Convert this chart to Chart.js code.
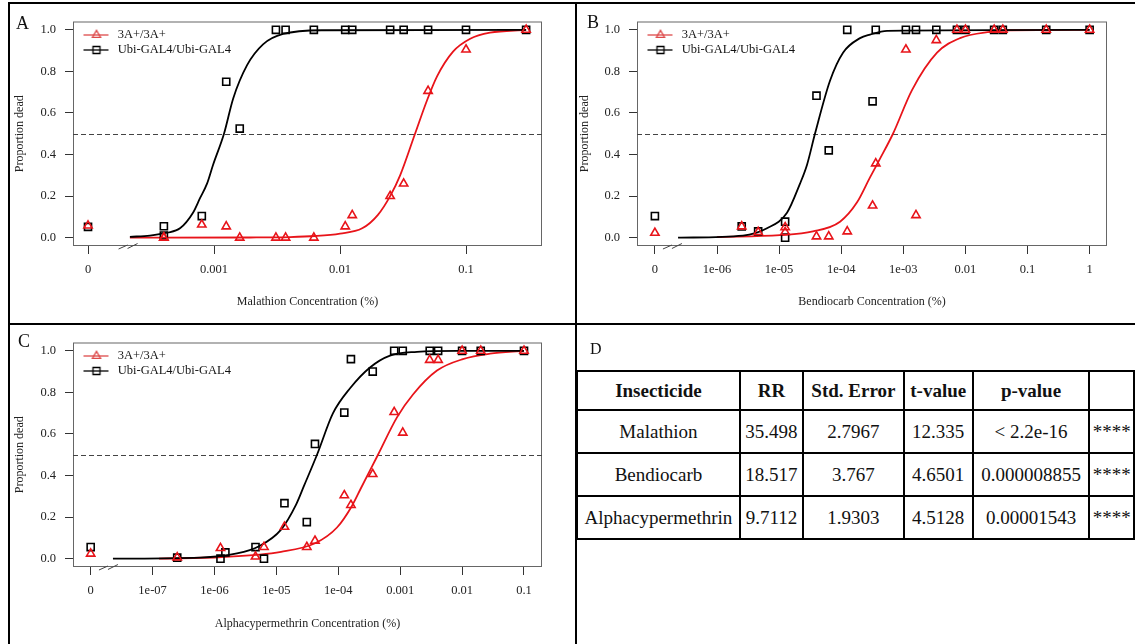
<!DOCTYPE html>
<html>
<head>
<meta charset="utf-8">
<script src="https://cdn.jsdelivr.net/npm/chart.js@4.4.1/dist/chart.umd.min.js"></script>
<style>
  body { margin: 0; background: #fff; font-family: 'Liberation Serif', 'Times New Roman', serif; }
  #fig { position: relative; width: 1135px; height: 644px; overflow: hidden; }
  .rule { position: absolute; background: #000; }
  .tag { position: absolute; font-size: 18px; line-height: 1; color: #111; }
  canvas { position: absolute; }
  #stats { position: absolute; left: 576px; top: 370px; border-collapse: collapse; font-size: 19px; color: #111; table-layout: fixed; }
  #stats td, #stats th { border: 2px solid #000; text-align: center; padding: 0; white-space: nowrap; }
  #stats th { height: 37px; }
  #stats td { height: 41px; font-weight: normal; }
</style>
</head>
<body>
<div id="fig">
  <div class="rule" style="left:8px;top:2px;width:1127px;height:2px"></div>
  <div class="rule" style="left:8px;top:2px;width:2px;height:642px"></div>
  <div class="rule" style="left:575px;top:2px;width:2px;height:642px"></div>
  <div class="rule" style="left:8px;top:323px;width:1127px;height:2px"></div>

  <canvas id="chartA" width="565" height="317" style="left:10px;top:5px"></canvas>
  <canvas id="chartB" width="557" height="317" style="left:578px;top:5px"></canvas>
  <canvas id="chartC" width="565" height="318" style="left:10px;top:326px"></canvas>

  <div class="tag" style="left:16px;top:14px">A</div>
  <div class="tag" style="left:587px;top:13px">B</div>
  <div class="tag" style="left:18px;top:332px">C</div>
  <div class="tag" style="left:590px;top:341px;font-size:16px">D</div>

  <table id="stats">
    <colgroup>
      <col style="width:164px"><col style="width:64px"><col style="width:102px">
      <col style="width:70px"><col style="width:118px"><col style="width:45px">
    </colgroup>
    <thead><tr id="statsHead"></tr></thead>
    <tbody id="statsBody"></tbody>
  </table>
</div>

<script>
// ---- Panel A: malathion ----
const malTickVals = [1e-4, 1e-3, 1e-2, 1e-1];
const malTickLabels = ['0', '0.001', '0.01', '0.1'];
const malDose = [0, 0.0004, 0.0004, 0.0008, 0.00125, 0.0016, 0.0031, 0.0037, 0.0062, 0.011, 0.0125, 0.025, 0.032, 0.05, 0.1, 0.3];
const malDead3A = [0.058, 0, 0, 0.063, 0.054, 0, 0, 0, 0, 0.054, 0.108, 0.2, 0.26, 0.706, 0.905, 1];
const malDeadUbi = [0.052, 0.055, 0.01, 0.104, 0.75, 0.525, 1, 1, 1, 1, 1, 1, 1, 1, 1, 1];
const malFit3AX = [2.15e-4, 1.93e-3, 4.01e-3, 6.34e-3, 0.01, 0.015, 0.02, 0.025, 0.03, 0.0394, 0.049, 0.0589, 0.0789, 0.108, 0.155, 0.3];
const malFit3AY = [0, 0.001, 0.003, 0.008, 0.02, 0.045, 0.11, 0.2, 0.3, 0.5, 0.66, 0.776, 0.895, 0.957, 0.986, 1];
const malFitUbiX = [2.15e-4, 3.1e-4, 4.24e-4, 5.37e-4, 6.81e-4, 7.74e-4, 8.8e-4, 9.82e-4, 1.2e-3, 1.42e-3, 1.83e-3, 2.45e-3, 3.53e-3, 7.33e-3, 0.3];
const malFitUbiY = [0.004, 0.01, 0.024, 0.045, 0.12, 0.19, 0.26, 0.35, 0.5, 0.67, 0.83, 0.93, 0.98, 0.998, 1];

// ---- Panel B: bendiocarb ----
const benTickVals = [1e-7, 1e-6, 1e-5, 1e-4, 1e-3, 1e-2, 1e-1, 1];
const benTickLabels = ['0', '1e-06', '1e-05', '1e-04', '1e-03', '0.01', '0.1', '1'];
const benDose = [0, 2.5e-6, 4.6e-6, 1.25e-5, 1.25e-5, 4e-5, 6.3e-5, 1.25e-4, 3.2e-4, 3.6e-4, 1.1e-3, 1.6e-3, 3.4e-3, 7.3e-3, 0.01, 0.029, 0.04, 0.2, 1];
const benDead3A = [0.023, 0.054, 0.027, 0.05, 0.027, 0.006, 0.006, 0.03, 0.154, 0.357, 0.905, 0.108, 0.95, 1, 1, 1, 1, 1, 1];
const benDeadUbi = [0.104, 0.054, 0.03, 0, 0.077, 0.683, 0.42, 1, 0.656, 1, 1, 1, 1, 1, 1, 1, 1, 1, 1];
const benFit3AX = [1e-6, 1.03e-5, 3.51e-5, 9.57e-5, 1.8e-4, 2.91e-4, 4.22e-4, 6.82e-4, 1.38e-3, 3.49e-3, 8.19e-3, 0.0249, 0.0522, 1];
const benFit3AY = [0.003, 0.012, 0.03, 0.077, 0.17, 0.29, 0.38, 0.5, 0.71, 0.89, 0.96, 0.99, 0.998, 1];
const benFitUbiX = [2.36e-7, 2.62e-6, 6.38e-6, 1.34e-5, 2.17e-5, 2.81e-5, 3.78e-5, 6.6e-5, 1.07e-4, 2.01e-4, 2.91e-4, 5.47e-4, 1];
const benFitUbiY = [0, 0.01, 0.045, 0.12, 0.26, 0.35, 0.5, 0.755, 0.89, 0.96, 0.977, 0.995, 1];

// ---- Panel C: alphacypermethrin ----
const alphaTickVals = [1e-8, 1e-7, 1e-6, 1e-5, 1e-4, 1e-3, 1e-2, 1e-1];
const alphaTickLabels = ['0', '1e-07', '1e-06', '1e-05', '1e-04', '0.001', '0.01', '0.1'];
const alphaDose3A = [0, 2.5e-7, 1.25e-6, 4.6e-6, 6.3e-6, 1.35e-5, 3.1e-5, 4.2e-5, 1.25e-4, 1.6e-4, 3.6e-4, 8e-4, 1.1e-3, 3e-3, 4.1e-3, 0.01, 0.02, 0.1];
const alphaDead3A = [0.024, 0.006, 0.051, 0.01, 0.056, 0.153, 0.056, 0.086, 0.305, 0.258, 0.407, 0.705, 0.606, 0.956, 0.956, 1, 1, 1];
const alphaDoseUbi = [0, 2.5e-7, 1.25e-6, 1.5e-6, 4.6e-6, 6.3e-6, 1.35e-5, 3.1e-5, 4.2e-5, 1.25e-4, 1.6e-4, 3.6e-4, 8e-4, 1.1e-3, 3e-3, 4.1e-3, 0.01, 0.02, 0.1];
const alphaDeadUbi = [0.056, 0.005, 0, 0.03, 0.056, 0, 0.267, 0.176, 0.552, 0.703, 0.96, 0.9, 1, 1, 1, 1, 1, 1, 1];
const alphaFit3AX = [1.27e-7, 1.32e-6, 1.19e-5, 4.21e-5, 9.53e-5, 1.67e-4, 2.33e-4, 4.38e-4, 8.87e-4, 1.61e-3, 3.93e-3, 0.0103, 0.0282, 0.1];
const alphaFit3AY = [0, 0.008, 0.033, 0.074, 0.15, 0.255, 0.34, 0.5, 0.68, 0.79, 0.905, 0.96, 0.986, 1];
const alphaFitUbiX = [2.29e-8, 5.83e-7, 2.31e-6, 5.24e-6, 1.19e-5, 2.08e-5, 2.79e-5, 4.53e-5, 8.22e-5, 1.55e-4, 3.25e-4, 6.84e-4, 1.87e-3, 8.26e-3, 0.1];
const alphaFitUbiY = [0, 0.005, 0.025, 0.06, 0.14, 0.26, 0.35, 0.5, 0.7, 0.82, 0.92, 0.977, 0.995, 1, 1];

// ---- Panel D: resistance ratio table ----
const tableHead = ['Insecticide', 'RR', 'Std. Error', 't-value', 'p-value', ''];
const insecticides = ['Malathion', 'Bendiocarb', 'Alphacypermethrin'];
const rrValues = ['35.498', '18.517', '9.7112'];
const stdErrors = ['2.7967', '3.767', '1.9303'];
const tValues = ['12.335', '4.6501', '4.5128'];
const pValues = ['< 2.2e-16', '0.000008855', '0.00001543'];
const signif = ['****', '****', '****'];

const yTickVals = [0, 0.2, 0.4, 0.6, 0.8, 1];
const halfKill = 0.5;
const seriesNames = ['3A+/3A+', 'Ubi-GAL4/Ubi-GAL4'];

const RED = '#e8141a';
const INK = '#222';
Chart.defaults.font.family = "'Liberation Serif', 'Times New Roman', serif";
Chart.defaults.color = INK;

function legendIcon(color, shape) {
  const c = document.createElement('canvas');
  c.width = 36; c.height = 14;
  const g = c.getContext('2d');
  g.strokeStyle = color; g.lineWidth = 1.3;
  g.beginPath(); g.moveTo(8, 7); g.lineTo(33, 7); g.stroke();
  g.beginPath();
  if (shape === 'triangle') {
    g.moveTo(21, 2.3); g.lineTo(16.9, 9.4); g.lineTo(25.1, 9.4); g.closePath();
  } else {
    g.rect(17.5, 3.5, 7, 7);
  }
  g.stroke();
  return c;
}
const legendIcons = [legendIcon('#dd4a4a', 'triangle'), legendIcon('#000', 'rect')];

// plot frame, dashed LD50 line and the axis break marks
const panelBox = {
  id: 'panelBox',
  beforeDatasetsDraw(chart, args, opts) {
    const { ctx, chartArea: a, scales } = chart;
    ctx.save();
    ctx.strokeStyle = '#666';
    ctx.lineWidth = 1;
    ctx.strokeRect(a.left + 0.5, a.top + 0.5, a.right - a.left - 1, a.bottom - a.top - 1);
    const y = Math.round(scales.y.getPixelForValue(opts.refLevel)) + 0.5;
    ctx.strokeStyle = '#444';
    ctx.setLineDash([5, 3]);
    ctx.beginPath(); ctx.moveTo(a.left, y); ctx.lineTo(a.right, y); ctx.stroke();
    ctx.setLineDash([]);
    const bx = scales.x.getPixelForValue(opts.breakAt);
    const by = a.bottom;
    ctx.beginPath();
    ctx.moveTo(bx - 9, by + 3); ctx.lineTo(bx, by - 1);
    ctx.moveTo(bx, by + 2.5); ctx.lineTo(bx + 10, by - 2.5);
    ctx.stroke();
    ctx.restore();
  }
};

const toPts = (xs, ys, zeroAt) => xs.map((x, i) => ({ x: x === 0 ? zeroAt : x, y: ys[i] }));

function makePanel(p) {
  const datasets = [
    { label: seriesNames[0], data: toPts(p.dose3A, p.dead3A, p.zeroAt), pointStyle: 'triangle', pointRadius: 4.8,
      borderColor: RED, pointBorderColor: RED, backgroundColor: 'transparent', pointBackgroundColor: 'transparent', pointBorderWidth: 1.6 },
    { label: seriesNames[1], data: toPts(p.doseUbi, p.deadUbi, p.zeroAt), pointStyle: 'rect', pointRadius: 5,
      borderColor: '#000', pointBorderColor: '#000', backgroundColor: 'transparent', pointBackgroundColor: 'transparent', pointBorderWidth: 1.6 },
    { label: 'fit Ubi', data: toPts(p.fitUbiX, p.fitUbiY, p.zeroAt), showLine: true, pointRadius: 0,
      borderColor: '#000', borderWidth: 1.8, cubicInterpolationMode: 'monotone' },
    { label: 'fit 3A', data: toPts(p.fit3AX, p.fit3AY, p.zeroAt), showLine: true, pointRadius: 0,
      borderColor: RED, borderWidth: 1.8, cubicInterpolationMode: 'monotone' }
  ];
  new Chart(document.getElementById(p.canvas), {
    type: 'scatter',
    data: { datasets },
    plugins: [panelBox],
    options: {
      responsive: false,
      animation: false,
      events: [],
      layout: { padding: { left: 0, top: 2, right: p.padRight, bottom: 0 } },
      scales: {
        x: {
          type: 'logarithmic', min: p.xMin, max: p.xMax,
          afterBuildTicks: s => { s.ticks = p.tickVals.map(v => ({ value: v })); },
          afterFit: s => { s.height = p.xAxisHeight; },
          ticks: { autoSkip: false, maxRotation: 0, padding: 8, color: INK, font: { size: 12.5 },
                   callback: (v, i) => p.tickLabels[i] },
          grid: { drawOnChartArea: false, tickLength: 8, color: '#333' },
          border: { display: false },
          title: { display: true, text: p.xTitle, color: INK, font: { size: 12 }, padding: { bottom: 13 } }
        },
        y: {
          min: -0.04, max: 1.04,
          afterBuildTicks: s => { s.ticks = yTickVals.map(v => ({ value: v })); },
          afterFit: s => { s.width = p.yAxisWidth; },
          ticks: { padding: 9, color: INK, font: { size: 12.5 }, callback: v => v.toFixed(1) },
          grid: { drawOnChartArea: false, tickLength: 8, color: '#333' },
          border: { display: false },
          title: { display: true, text: 'Proportion dead', color: INK, font: { size: 12 }, padding: { top: p.yTitlePad } }
        }
      },
      plugins: {
        tooltip: { enabled: false },
        panelBox: { refLevel: halfKill, breakAt: p.breakAt },
        legend: {
          position: 'chartArea', align: 'start',
          title: { display: true, text: '', font: { size: 10 }, padding: { top: 9.25, bottom: 0 } },
          labels: {
            usePointStyle: true, pointStyleWidth: 36, padding: 2.5, color: '#111', font: { size: 12.5 },
            generateLabels: chart => chart.data.datasets.slice(0, 2).map((ds, i) => ({
              text: ds.label, pointStyle: legendIcons[i], datasetIndex: i, hidden: false,
              fontColor: '#111', lineWidth: 0, strokeStyle: 'rgba(0,0,0,0)', fillStyle: 'rgba(0,0,0,0)'
            }))
          }
        }
      }
    }
  });
}

makePanel({
  canvas: 'chartA', xMin: 7.6e-5, xMax: 0.401, zeroAt: 1e-4, breakAt: 2.06e-4,
  tickVals: malTickVals, tickLabels: malTickLabels, xTitle: 'Malathion Concentration (%)',
  dose3A: malDose, dead3A: malDead3A, doseUbi: malDose, deadUbi: malDeadUbi,
  fit3AX: malFit3AX, fit3AY: malFit3AY, fitUbiX: malFitUbiX, fitUbiY: malFitUbiY,
  padRight: 33, yAxisWidth: 63, xAxisHeight: 76, yTitlePad: 3
});
makePanel({
  canvas: 'chartB', xMin: 5.15e-8, xMax: 1.905, zeroAt: 1e-7, breakAt: 1.88e-7,
  tickVals: benTickVals, tickLabels: benTickLabels, xTitle: 'Bendiocarb Concentration (%)',
  dose3A: benDose, dead3A: benDead3A, doseUbi: benDose, deadUbi: benDeadUbi,
  fit3AX: benFit3AX, fit3AY: benFit3AY, fitUbiX: benFitUbiX, fitUbiY: benFitUbiY,
  padRight: 28, yAxisWidth: 59, xAxisHeight: 76, yTitlePad: 0
});
makePanel({
  canvas: 'chartC', xMin: 5.18e-9, xMax: 0.1954, zeroAt: 1e-8, breakAt: 1.9e-8,
  tickVals: alphaTickVals, tickLabels: alphaTickLabels, xTitle: 'Alphacypermethrin Concentration (%)',
  dose3A: alphaDose3A, dead3A: alphaDead3A, doseUbi: alphaDoseUbi, deadUbi: alphaDeadUbi,
  fit3AX: alphaFit3AX, fit3AY: alphaFit3AY, fitUbiX: alphaFitUbiX, fitUbiY: alphaFitUbiY,
  padRight: 33, yAxisWidth: 63, xAxisHeight: 77, yTitlePad: 3
});

// table D
document.getElementById('statsHead').innerHTML = tableHead.map(h => `<th>${h}</th>`).join('');
document.getElementById('statsBody').innerHTML = insecticides.map((name, i) =>
  `<tr><td>${name}</td><td>${rrValues[i]}</td><td>${stdErrors[i]}</td><td>${tValues[i]}</td>` +
  `<td>${pValues[i].replace('<', '&lt;')}</td><td>${signif[i]}</td></tr>`).join('');
</script>
</body>
</html>
